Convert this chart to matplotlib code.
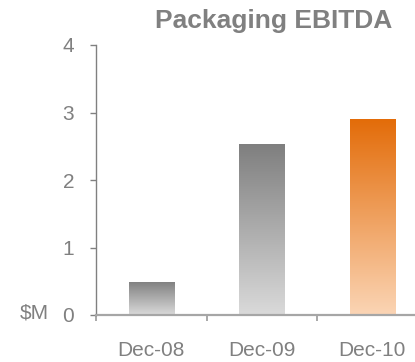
import numpy as np
import matplotlib
matplotlib.use("Agg")
import matplotlib.pyplot as plt
from matplotlib.colors import LinearSegmentedColormap

# =========================================
# DATA
# =========================================

periods = ["Dec-08", "Dec-09", "Dec-10"]
ebitda = [0.49, 2.53, 2.90]
y_ticks = [0, 1, 2, 3, 4]

top_colors = ["#7f7f7f", "#7f7f7f", "#e36c09"]
bottom_colors = ["#dadada", "#dadada", "#fbd5b5"]

W, H = 415, 362
GREY = "#808080"

plt.rcParams["font.family"] = ["Liberation Sans", "DejaVu Sans"]

fig = plt.figure(figsize=(W / 100, H / 100), dpi=100)
ax = fig.add_axes([96 / W, (H - 315) / H, (W - 96) / W, 270 / H])

x = np.arange(len(periods))
bars = ax.bar(x, ebitda, width=0.41, color="none", edgecolor="none")

# gradient fill per bar
grad = np.linspace(0, 1, 256).reshape(-1, 1)
for bar, c_top, c_bot in zip(bars, top_colors, bottom_colors):
    cmap = LinearSegmentedColormap.from_list("g", [c_bot, c_top])
    x0 = bar.get_x()
    x1 = x0 + bar.get_width()
    h = bar.get_height()
    im = ax.imshow(grad, cmap=cmap, origin="lower", aspect="auto",
                   extent=[x0, x1, 0, h], zorder=2)
    im.set_clip_path(bar)

ax.set_xlim(-0.5, -0.5 + (W - 96) / 110.5)
ax.set_ylim(0, 4)

# spines
for s in ["top", "right"]:
    ax.spines[s].set_visible(False)
ax.spines["left"].set_color(GREY)
ax.spines["left"].set_linewidth(1.0)
ax.spines["bottom"].set_color("#a6a6a6")
ax.spines["bottom"].set_linewidth(1.6)
ax.spines["bottom"].set_zorder(3)

# ticks
ax.set_yticks(y_ticks)
ax.set_yticklabels([str(v) for v in y_ticks])
ax.tick_params(axis="y", direction="out", length=4.3, width=1.0,
               color=GREY, labelcolor=GREY, labelsize=15, pad=11.5)

ax.set_xticks(x)
ax.set_xticklabels(periods)
ax.set_xticks([-0.5, 0.5, 1.5], minor=True)
ax.tick_params(axis="x", which="major", length=0, labelcolor=GREY,
               labelsize=15, pad=19)
ax.tick_params(axis="x", which="minor", direction="out", length=4.3,
               width=1.2, color="#999999")

fig.text(34 / W, 1 - 313 / H, "$M", ha="center", va="center",
         fontsize=15, color=GREY)
fig.text(274 / W, 1 - 21 / H, "Packaging EBITDA", ha="center", va="center",
         fontsize=19, fontweight="bold", color=GREY)

fig.savefig("out.png", dpi=100)
